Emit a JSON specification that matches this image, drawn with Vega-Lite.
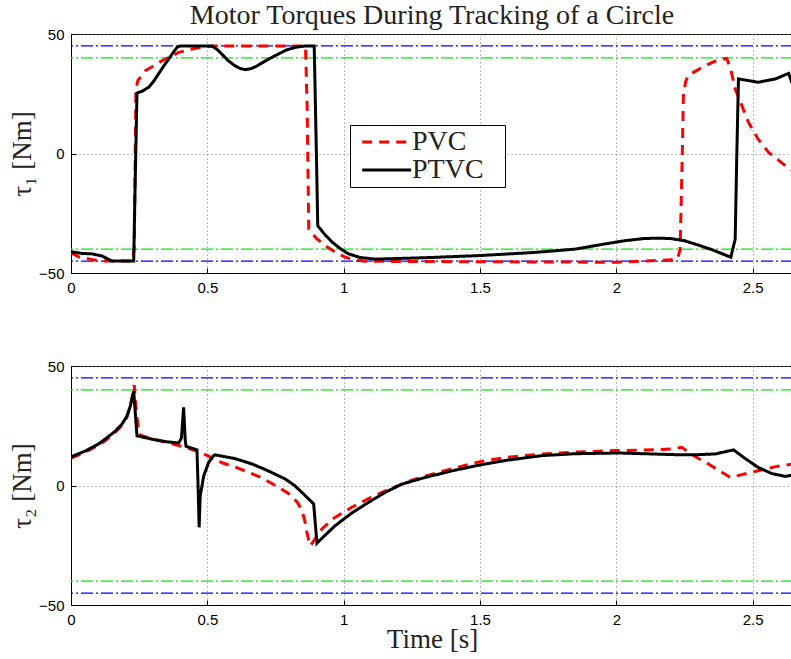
{
  "$schema": "https://vega.github.io/schema/vega-lite/v6.json",
  "padding": {"left": 7, "top": 1, "right": 0, "bottom": 0},
  "background": "white",
  "spacing": 62,
  "config": {
    "view": {"stroke": "black", "strokeWidth": 1},
    "axis": {
      "domainColor": "black",
      "tickColor": "black",
      "tickSize": -5,
      "labelPadding": 12,
      "labelFont": "Liberation Sans",
      "labelFontSize": 15,
      "labelColor": "black",
      "labelFlush": false,
      "labelOverlap": false,
      "gridDash": [1, 3],
      "gridColor": "#777777",
      "gridWidth": 1,
      "titleFont": "Liberation Serif",
      "titleFontSize": 27,
      "titleFontWeight": "normal",
      "titleColor": "#222222"
    }
  },
  "datasets": {
    "tau1": [
      {"t": 0, "v": -41.6, "s": "PVC"}, {"t": 0.03, "v": -43.3, "s": "PVC"}, {"t": 0.077, "v": -44.4, "s": "PVC"}, {"t": 0.12, "v": -45, "s": "PVC"}, {"t": 0.224, "v": -45, "s": "PVC"}, {"t": 0.232, "v": -40, "s": "PVC"}, {"t": 0.238, "v": 27, "s": "PVC"}, {"t": 0.245, "v": 30.5, "s": "PVC"}, {"t": 0.272, "v": 34.6, "s": "PVC"}, {"t": 0.334, "v": 38.8, "s": "PVC"}, {"t": 0.395, "v": 42.3, "s": "PVC"}, {"t": 0.44, "v": 43.6, "s": "PVC"}, {"t": 0.48, "v": 44.4, "s": "PVC"}, {"t": 0.52, "v": 45, "s": "PVC"}, {"t": 0.86, "v": 45, "s": "PVC"}, {"t": 0.866, "v": 20, "s": "PVC"}, {"t": 0.872, "v": -31.6, "s": "PVC"}, {"t": 0.9, "v": -35.5, "s": "PVC"}, {"t": 0.933, "v": -38.6, "s": "PVC"}, {"t": 0.97, "v": -41.3, "s": "PVC"}, {"t": 1.006, "v": -43.4, "s": "PVC"}, {"t": 1.04, "v": -44.5, "s": "PVC"}, {"t": 1.08, "v": -45.1, "s": "PVC"}, {"t": 1.5, "v": -45.3, "s": "PVC"}, {"t": 2.0, "v": -45.5, "s": "PVC"}, {"t": 2.198, "v": -44.5, "s": "PVC"}, {"t": 2.225, "v": -44, "s": "PVC"}, {"t": 2.234, "v": -40, "s": "PVC"}, {"t": 2.242, "v": 0, "s": "PVC"}, {"t": 2.246, "v": 24.2, "s": "PVC"}, {"t": 2.254, "v": 30, "s": "PVC"}, {"t": 2.263, "v": 32.6, "s": "PVC"}, {"t": 2.314, "v": 36, "s": "PVC"}, {"t": 2.36, "v": 38.5, "s": "PVC"}, {"t": 2.387, "v": 39.5, "s": "PVC"}, {"t": 2.405, "v": 39.8, "s": "PVC"}, {"t": 2.42, "v": 35, "s": "PVC"}, {"t": 2.436, "v": 27, "s": "PVC"}, {"t": 2.485, "v": 13, "s": "PVC"}, {"t": 2.52, "v": 6, "s": "PVC"}, {"t": 2.558, "v": 0.5, "s": "PVC"}, {"t": 2.62, "v": -5.1, "s": "PVC"}, {"t": 2.648, "v": -7.2, "s": "PVC"},
      {"t": 0, "v": -41.1, "s": "PTVC"}, {"t": 0.04, "v": -41.8, "s": "PTVC"}, {"t": 0.077, "v": -42, "s": "PTVC"}, {"t": 0.114, "v": -42.9, "s": "PTVC"}, {"t": 0.15, "v": -45, "s": "PTVC"}, {"t": 0.23, "v": -45, "s": "PTVC"}, {"t": 0.234, "v": -20, "s": "PTVC"}, {"t": 0.242, "v": 25.3, "s": "PTVC"}, {"t": 0.26, "v": 26, "s": "PTVC"}, {"t": 0.285, "v": 27.7, "s": "PTVC"}, {"t": 0.303, "v": 30.2, "s": "PTVC"}, {"t": 0.321, "v": 33.3, "s": "PTVC"}, {"t": 0.34, "v": 36.6, "s": "PTVC"}, {"t": 0.358, "v": 39.5, "s": "PTVC"}, {"t": 0.375, "v": 42.3, "s": "PTVC"}, {"t": 0.389, "v": 44.4, "s": "PTVC"}, {"t": 0.4, "v": 45, "s": "PTVC"}, {"t": 0.517, "v": 45, "s": "PTVC"}, {"t": 0.535, "v": 43.6, "s": "PTVC"}, {"t": 0.55, "v": 42, "s": "PTVC"}, {"t": 0.575, "v": 39, "s": "PTVC"}, {"t": 0.6, "v": 36.8, "s": "PTVC"}, {"t": 0.62, "v": 35.6, "s": "PTVC"}, {"t": 0.639, "v": 35.1, "s": "PTVC"}, {"t": 0.66, "v": 35.5, "s": "PTVC"}, {"t": 0.68, "v": 36.5, "s": "PTVC"}, {"t": 0.7, "v": 37.9, "s": "PTVC"}, {"t": 0.725, "v": 39.5, "s": "PTVC"}, {"t": 0.76, "v": 41.6, "s": "PTVC"}, {"t": 0.79, "v": 43.3, "s": "PTVC"}, {"t": 0.822, "v": 44.4, "s": "PTVC"}, {"t": 0.86, "v": 45, "s": "PTVC"}, {"t": 0.892, "v": 45, "s": "PTVC"}, {"t": 0.9, "v": 0, "s": "PTVC"}, {"t": 0.905, "v": -30.2, "s": "PTVC"}, {"t": 0.93, "v": -33.8, "s": "PTVC"}, {"t": 0.957, "v": -37, "s": "PTVC"}, {"t": 0.99, "v": -40, "s": "PTVC"}, {"t": 1.018, "v": -42, "s": "PTVC"}, {"t": 1.06, "v": -43.5, "s": "PTVC"}, {"t": 1.115, "v": -44.2, "s": "PTVC"}, {"t": 1.3, "v": -43.6, "s": "PTVC"}, {"t": 1.5, "v": -42.7, "s": "PTVC"}, {"t": 1.7, "v": -41.4, "s": "PTVC"}, {"t": 1.85, "v": -40, "s": "PTVC"}, {"t": 1.95, "v": -38, "s": "PTVC"}, {"t": 2.03, "v": -36.5, "s": "PTVC"}, {"t": 2.1, "v": -35.6, "s": "PTVC"}, {"t": 2.155, "v": -35.4, "s": "PTVC"}, {"t": 2.2, "v": -35.6, "s": "PTVC"}, {"t": 2.25, "v": -36.5, "s": "PTVC"}, {"t": 2.3, "v": -38.3, "s": "PTVC"}, {"t": 2.35, "v": -40.2, "s": "PTVC"}, {"t": 2.42, "v": -43.4, "s": "PTVC"}, {"t": 2.436, "v": -35.8, "s": "PTVC"}, {"t": 2.442, "v": 0, "s": "PTVC"}, {"t": 2.448, "v": 31.2, "s": "PTVC"}, {"t": 2.47, "v": 30.8, "s": "PTVC"}, {"t": 2.52, "v": 29.8, "s": "PTVC"}, {"t": 2.583, "v": 31.2, "s": "PTVC"}, {"t": 2.632, "v": 33.5, "s": "PTVC"}, {"t": 2.648, "v": 28.4, "s": "PTVC"}
    ],
    "tau2": [
      {"t": 0, "v": 11.5, "s": "PVC"}, {"t": 0.05, "v": 13.8, "s": "PVC"}, {"t": 0.1, "v": 16.8, "s": "PVC"}, {"t": 0.126, "v": 18.8, "s": "PVC"}, {"t": 0.16, "v": 22, "s": "PVC"}, {"t": 0.187, "v": 25.3, "s": "PVC"}, {"t": 0.205, "v": 28.5, "s": "PVC"}, {"t": 0.218, "v": 33.5, "s": "PVC"}, {"t": 0.226, "v": 38, "s": "PVC"}, {"t": 0.232, "v": 42, "s": "PVC"}, {"t": 0.24, "v": 30, "s": "PVC"}, {"t": 0.25, "v": 21.5, "s": "PVC"}, {"t": 0.26, "v": 20.8, "s": "PVC"}, {"t": 0.3, "v": 19.5, "s": "PVC"}, {"t": 0.35, "v": 18, "s": "PVC"}, {"t": 0.395, "v": 16.7, "s": "PVC"}, {"t": 0.456, "v": 14.6, "s": "PVC"}, {"t": 0.5, "v": 12.5, "s": "PVC"}, {"t": 0.554, "v": 9.5, "s": "PVC"}, {"t": 0.6, "v": 7.8, "s": "PVC"}, {"t": 0.652, "v": 5.5, "s": "PVC"}, {"t": 0.7, "v": 3.2, "s": "PVC"}, {"t": 0.762, "v": -0.8, "s": "PVC"}, {"t": 0.8, "v": -3.5, "s": "PVC"}, {"t": 0.83, "v": -7, "s": "PVC"}, {"t": 0.847, "v": -10.5, "s": "PVC"}, {"t": 0.858, "v": -15, "s": "PVC"}, {"t": 0.865, "v": -19.5, "s": "PVC"}, {"t": 0.872, "v": -23, "s": "PVC"}, {"t": 0.878, "v": -25.2, "s": "PVC"}, {"t": 0.9, "v": -21.5, "s": "PVC"}, {"t": 0.92, "v": -18.2, "s": "PVC"}, {"t": 0.96, "v": -14, "s": "PVC"}, {"t": 1.03, "v": -9.1, "s": "PVC"}, {"t": 1.1, "v": -5, "s": "PVC"}, {"t": 1.153, "v": -2.2, "s": "PVC"}, {"t": 1.25, "v": 2.2, "s": "PVC"}, {"t": 1.35, "v": 5.6, "s": "PVC"}, {"t": 1.5, "v": 10, "s": "PVC"}, {"t": 1.6, "v": 11.8, "s": "PVC"}, {"t": 1.727, "v": 13.2, "s": "PVC"}, {"t": 1.85, "v": 14, "s": "PVC"}, {"t": 2.0, "v": 14.6, "s": "PVC"}, {"t": 2.1, "v": 14.8, "s": "PVC"}, {"t": 2.204, "v": 15.3, "s": "PVC"}, {"t": 2.24, "v": 16, "s": "PVC"}, {"t": 2.29, "v": 12, "s": "PVC"}, {"t": 2.338, "v": 9, "s": "PVC"}, {"t": 2.38, "v": 6, "s": "PVC"}, {"t": 2.418, "v": 3.4, "s": "PVC"}, {"t": 2.47, "v": 4.8, "s": "PVC"}, {"t": 2.52, "v": 6.2, "s": "PVC"}, {"t": 2.58, "v": 7.8, "s": "PVC"}, {"t": 2.648, "v": 9, "s": "PVC"},
      {"t": 0, "v": 12, "s": "PTVC"}, {"t": 0.05, "v": 14.3, "s": "PTVC"}, {"t": 0.1, "v": 17.3, "s": "PTVC"}, {"t": 0.126, "v": 19.5, "s": "PTVC"}, {"t": 0.16, "v": 22.5, "s": "PTVC"}, {"t": 0.187, "v": 25.7, "s": "PTVC"}, {"t": 0.205, "v": 29, "s": "PTVC"}, {"t": 0.218, "v": 33.4, "s": "PTVC"}, {"t": 0.23, "v": 39.5, "s": "PTVC"}, {"t": 0.236, "v": 30, "s": "PTVC"}, {"t": 0.242, "v": 20.8, "s": "PTVC"}, {"t": 0.3, "v": 19.3, "s": "PTVC"}, {"t": 0.35, "v": 18.3, "s": "PTVC"}, {"t": 0.395, "v": 17.8, "s": "PTVC"}, {"t": 0.405, "v": 19.8, "s": "PTVC"}, {"t": 0.413, "v": 32.7, "s": "PTVC"}, {"t": 0.419, "v": 19, "s": "PTVC"}, {"t": 0.422, "v": 16.4, "s": "PTVC"}, {"t": 0.462, "v": 14.9, "s": "PTVC"}, {"t": 0.466, "v": 0, "s": "PTVC"}, {"t": 0.47, "v": -17.5, "s": "PTVC"}, {"t": 0.474, "v": -4.3, "s": "PTVC"}, {"t": 0.487, "v": 4.1, "s": "PTVC"}, {"t": 0.505, "v": 9.7, "s": "PTVC"}, {"t": 0.523, "v": 12.5, "s": "PTVC"}, {"t": 0.529, "v": 12.8, "s": "PTVC"}, {"t": 0.6, "v": 11.3, "s": "PTVC"}, {"t": 0.664, "v": 9, "s": "PTVC"}, {"t": 0.72, "v": 6.3, "s": "PTVC"}, {"t": 0.786, "v": 2.7, "s": "PTVC"}, {"t": 0.82, "v": 0, "s": "PTVC"}, {"t": 0.847, "v": -2.9, "s": "PTVC"}, {"t": 0.89, "v": -7.7, "s": "PTVC"}, {"t": 0.902, "v": -24.1, "s": "PTVC"}, {"t": 0.93, "v": -21, "s": "PTVC"}, {"t": 0.969, "v": -16.8, "s": "PTVC"}, {"t": 1.03, "v": -11.5, "s": "PTVC"}, {"t": 1.092, "v": -7, "s": "PTVC"}, {"t": 1.15, "v": -3, "s": "PTVC"}, {"t": 1.214, "v": 0.6, "s": "PTVC"}, {"t": 1.3, "v": 3.4, "s": "PTVC"}, {"t": 1.4, "v": 6.2, "s": "PTVC"}, {"t": 1.5, "v": 8.6, "s": "PTVC"}, {"t": 1.6, "v": 10.6, "s": "PTVC"}, {"t": 1.727, "v": 12.5, "s": "PTVC"}, {"t": 1.85, "v": 13.3, "s": "PTVC"}, {"t": 2.008, "v": 13.6, "s": "PTVC"}, {"t": 2.1, "v": 13.3, "s": "PTVC"}, {"t": 2.216, "v": 12.9, "s": "PTVC"}, {"t": 2.3, "v": 12.9, "s": "PTVC"}, {"t": 2.363, "v": 13.2, "s": "PTVC"}, {"t": 2.43, "v": 14.9, "s": "PTVC"}, {"t": 2.47, "v": 11.5, "s": "PTVC"}, {"t": 2.52, "v": 7.6, "s": "PTVC"}, {"t": 2.57, "v": 5, "s": "PTVC"}, {"t": 2.62, "v": 3.8, "s": "PTVC"}, {"t": 2.648, "v": 4.4, "s": "PTVC"}
    ],
    "lim45": [{"v": 45}, {"v": -45}],
    "lim40": [{"v": 40}, {"v": -40}]
  },
  "vconcat": [
    {
      "width": 722,
      "height": 239,
      "title": {"text": "Motor Torques During Tracking of a Circle", "font": "Liberation Serif", "fontSize": 28, "fontWeight": "normal", "color": "#222222", "anchor": "middle", "baseline": "alphabetic", "offset": -25},
      "encoding": {
        "y": {"field": "v", "type": "quantitative", "scale": {"domain": [-50, 50], "nice": false},
          "axis": {"values": [-50, 0, 50], "format": "d", "grid": true, "title": "τ₁ [Nm]", "titleAngle": 270, "titleX": -41, "titleY": 119.5, "titleAlign": "center", "titleBaseline": "alphabetic"}}
      },
      "layer": [
        {
          "data": {"name": "lim40"},
          "mark": {"type": "rule", "color": "#00ee00", "strokeWidth": 1.2, "strokeDash": [12, 3, 2, 3]}
        },
        {
          "data": {"name": "lim45"},
          "mark": {"type": "rule", "color": "#0000ff", "strokeWidth": 1.2, "strokeDash": [12, 3, 2, 3]}
        },
        {
          "data": {"name": "tau1"},
          "mark": {"type": "line", "strokeWidth": 3, "clip": true, "strokeCap": "butt"},
          "encoding": {
            "x": {"field": "t", "type": "quantitative", "scale": {"domain": [0, 2.648], "nice": false, "zero": false},
              "axis": {"values": [0, 0.5, 1, 1.5, 2, 2.5], "format": "~g", "title": null, "grid": true}},
            "color": {"field": "s", "type": "nominal", "scale": {"domain": ["PVC", "PTVC"], "range": ["#ff0000", "#000000"]},
              "legend": {"title": " ", "titleOrient": "right", "titlePadding": 18, "titleFontSize": 1, "orient": "none", "legendX": 279, "legendY": 91, "strokeColor": "black", "fillColor": "white", "padding": 3, "symbolType": "M-1,0H4", "symbolSize": 384, "symbolOffset": 5, "symbolStrokeWidth": 3, "labelFont": "Liberation Serif", "labelFontSize": 28, "labelColor": "#222222", "labelOffset": 26, "rowPadding": 0}},
            "strokeDash": {"field": "s", "type": "nominal", "scale": {"domain": ["PVC", "PTVC"], "range": [[10, 7], [1, 0]]},
              "legend": {"title": " ", "titleOrient": "right", "titlePadding": 18, "titleFontSize": 1, "orient": "none", "legendX": 279, "legendY": 91, "strokeColor": "black", "fillColor": "white", "padding": 3, "symbolType": "M-1,0H4", "symbolSize": 384, "symbolOffset": 5, "symbolStrokeWidth": 3, "labelFont": "Liberation Serif", "labelFontSize": 28, "labelColor": "#222222", "labelOffset": 26, "rowPadding": 0}}
          }
        }
      ]
    },
    {
      "width": 722,
      "height": 239,
      "encoding": {
        "y": {"field": "v", "type": "quantitative", "scale": {"domain": [-50, 50], "nice": false},
          "axis": {"values": [-50, 0, 50], "format": "d", "grid": true, "title": "τ₂ [Nm]", "titleAngle": 270, "titleX": -41, "titleY": 119.5, "titleAlign": "center", "titleBaseline": "alphabetic"}}
      },
      "layer": [
        {
          "data": {"name": "lim40"},
          "mark": {"type": "rule", "color": "#00ee00", "strokeWidth": 1.2, "strokeDash": [12, 3, 2, 3]}
        },
        {
          "data": {"name": "lim45"},
          "mark": {"type": "rule", "color": "#0000ff", "strokeWidth": 1.2, "strokeDash": [12, 3, 2, 3]}
        },
        {
          "data": {"name": "tau2"},
          "mark": {"type": "line", "strokeWidth": 3, "clip": true, "strokeCap": "butt"},
          "encoding": {
            "x": {"field": "t", "type": "quantitative", "scale": {"domain": [0, 2.648], "nice": false, "zero": false},
              "axis": {"values": [0, 0.5, 1, 1.5, 2, 2.5], "format": "~g", "title": "Time [s]", "grid": true, "titleY": 42, "titleBaseline": "alphabetic"}},
            "color": {"field": "s", "type": "nominal", "scale": {"domain": ["PVC", "PTVC"], "range": ["#ff0000", "#000000"]}, "legend": null},
            "strokeDash": {"field": "s", "type": "nominal", "scale": {"domain": ["PVC", "PTVC"], "range": [[10, 7], [1, 0]]}, "legend": null}
          }
        }
      ]
    }
  ]
}
